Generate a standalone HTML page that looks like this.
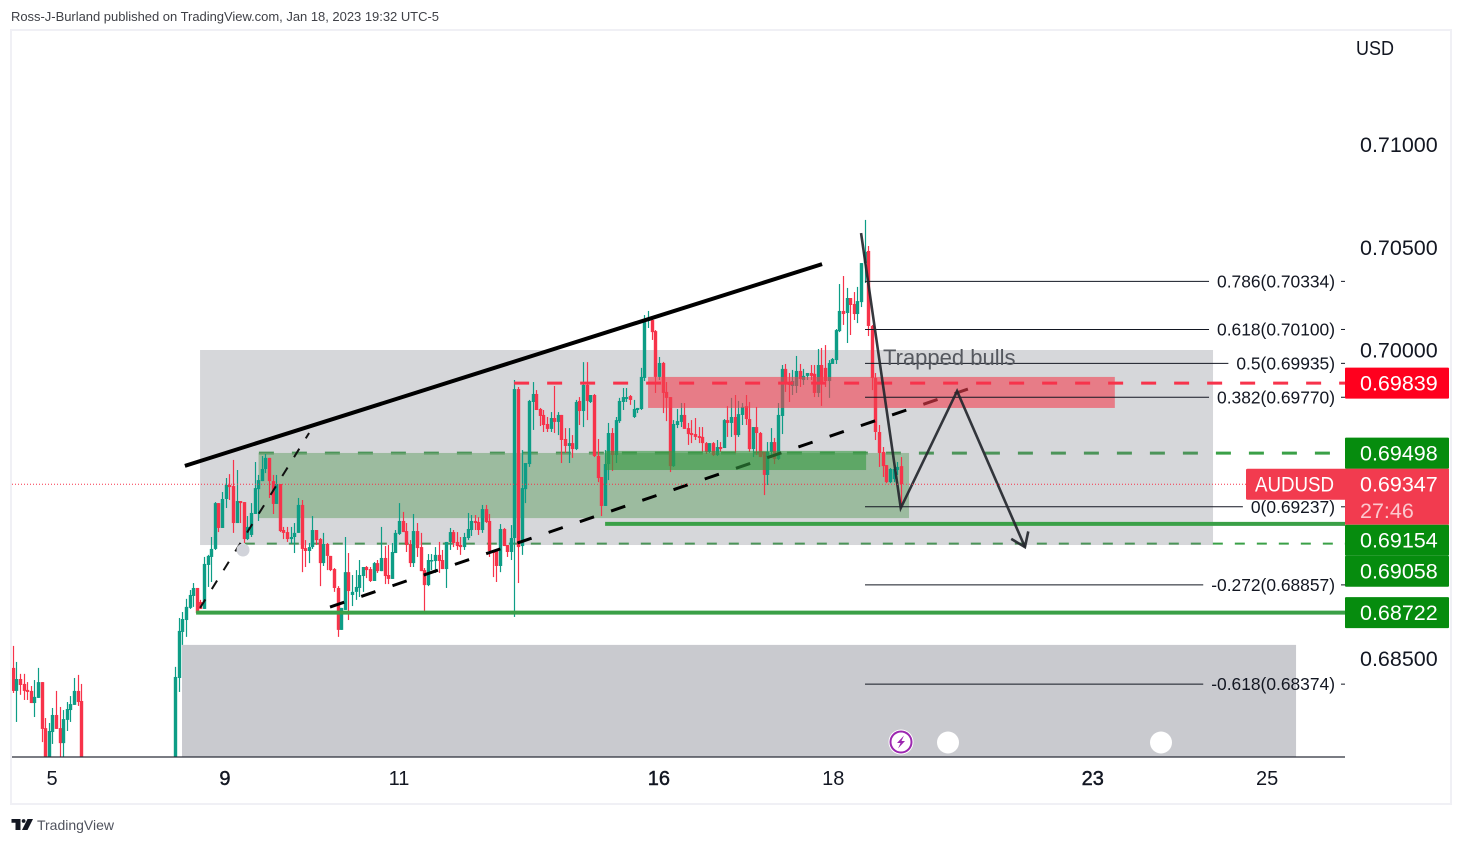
<!DOCTYPE html>
<html lang="en">
<head>
<meta charset="utf-8">
<title>AUDUSD chart</title>
<style>
html,body{margin:0;padding:0;background:#fff;width:1463px;height:844px;overflow:hidden}
svg{display:block;font-family:"Liberation Sans",sans-serif}
</style>
</head>
<body>
<svg id="chart" width="1463" height="844" viewBox="0 0 1463 844" xmlns="http://www.w3.org/2000/svg">
  <defs>
    <clipPath id="pane-clip"><rect x="12" y="30" width="1333" height="727"/></clipPath>
  </defs>
  <text x="11" y="21" font-size="13" fill="#3f4147" textLength="428" lengthAdjust="spacing">Ross-J-Burland published on TradingView.com, Jan 18, 2023 19:32 UTC-5</text>
  <rect x="11" y="30" width="1440" height="774" fill="#fff" stroke="#f0f0f5" stroke-width="2"/>
  <g id="pane" clip-path="url(#pane-clip)">
    <g id="under-levels"></g>
    <g id="zones-under"></g>
    <g id="candles"></g>
    <g id="trend-under"></g>
    <g id="zones-over"></g>
    <g id="over-levels"></g>
    <g id="fib"></g>
    <g id="trend-over"></g>
    <circle cx="243" cy="550" r="6.5" fill="#d1d3da"/>
    <text x="883" y="365" font-size="22" fill="#55585f">Trapped bulls</text>
    <g id="path-arrow"></g>
    <circle cx="901" cy="742" r="12.5" fill="#fff"/>
    <circle cx="901" cy="742" r="10.5" fill="#fff" stroke="#9c27b0" stroke-width="2"/>
    <polygon points="904,735.5 897,743 900.5,743 898,748.5 905,741 901.5,741" fill="#9c27b0"/>
    <circle cx="948" cy="742.5" r="11" fill="#fff"/>
    <circle cx="1161" cy="742.5" r="11" fill="#fff"/>
    <line id="last-line" x1="12" x2="1246" stroke="#f7334b" stroke-width="1" stroke-dasharray="1 2"/>
  </g>
  <line x1="12" y1="757" x2="1345" y2="757" stroke="#2a2e39" stroke-width="1.2"/>
  <g id="time-axis"></g>
  <g id="price-axis"></g>
  <text x="1356" y="55" font-size="20.5" fill="#131722" textLength="38" lengthAdjust="spacingAndGlyphs">USD</text>
  <g id="price-labels"></g>
  <g>
    <path d="M11.5 819H20.5V830H15.5V822.8H11.5Z" fill="#131722"/>
    <circle cx="23.6" cy="821" r="1.9" fill="#131722"/>
    <polygon points="27.5,819 33,819 27.5,830 22,830" fill="#131722"/>
    <text x="37" y="830" font-size="14" fill="#50535e" textLength="77" lengthAdjust="spacing">TradingView</text>
  </g>
</svg>
<script>
// Candles: one entry per hourly bar, prices in 1/100000
const opens = [
68453,68341,68399,68375,68346,68341,68282,68307,68384,68160,67859,68141,68224,68160,68087,68200,68248,68273,68341,68292,
67810,67760,67800,67790,67840,67820,67870,67850,67880,67830,67790,67740,67780,67760,67810,67830,67800,67780,67820,67850,67880,67840,67800,67760,67730,
67810,68404,68628,68686,68745,68803,68842,68774,68740,68954,
68993,69032,69255,69134,69275,69343,69338,69158,69265,69260,
69080,69100,69202,69323,69362,69421,69475,69362,69251,69348,
69124,69114,69080,69090,69110,69246,69036,69022,69041,69124,
69080,68963,69056,68998,68934,68842,68638,68735,68919,68808,
68823,68842,68900,68944,68934,68876,68963,68924,68988,68905,
68886,69012,69105,69168,69119,69056,68963,69119,69041,68929,
68856,68973,68973,69003,68978,68934,69066,69114,69066,69051,
69041,69085,69124,69168,69163,69124,69226,69168,69022,69022,
68949,69129,69051,69017,69085,69810,69046,69323,69445,69747,
69786,69713,69684,69640,69616,69669,69650,69684,69567,69533,
69547,69518,69752,69703,69830,69747,69781,69484,69382,69241,
69445,69596,69489,69654,69747,69762,69776,69674,69708,69713,
69864,70141,70146,70092,69869,69937,69796,69771,69435,69635,
69650,69684,69620,69596,69591,69581,69577,69547,69504,69547,
69489,69528,69523,69659,69645,69674,69586,69684,69727,69664,
69518,69625,69596,69504,69392,69504,69552,69470,69679,69908,
69844,69825,69825,69898,69854,69874,69888,69884,69791,69927,
69913,69849,69932,69951,70092,70190,70180,70253,70224,70175,
70233,70423,70482,70117,69864,69601,69504,69440,69357,69372,69416,69435];
const closes = [
68341,68399,68370,68341,68336,68282,68312,68384,68156,67859,68146,68224,68156,68087,68204,68253,68277,68341,68287,67810,
67760,67800,67790,67840,67820,67870,67850,67880,67830,67790,67740,67780,67760,67810,67830,67800,67780,67820,67850,67880,67840,67800,67760,67730,67761,
68409,68633,68691,68750,68808,68842,68720,68740,68959,68998,
69032,69255,69134,69275,69343,69333,69158,69265,69255,69080,
69139,69207,69328,69367,69421,69475,69362,69251,69348,69119,
69110,69080,69090,69110,69246,69032,69022,69041,69124,69075,
68963,69056,68998,68929,68842,68638,68745,68919,68827,68823,
68847,68905,68944,68929,68876,68963,68924,68988,68900,68886,
69017,69110,69168,69114,69051,68963,69119,69036,68924,68856,
68978,68978,69003,68973,68934,69066,69114,69061,69046,69041,
69090,69129,69168,69158,69124,69226,69163,69022,69012,68949,
69129,69046,69017,69085,69810,69041,69328,69450,69752,69786,
69708,69679,69635,69616,69669,69650,69684,69562,69533,69547,
69518,69747,69703,69830,69752,69781,69484,69377,69241,69445,
69596,69489,69659,69752,69771,69771,69757,69713,69718,69869,
70136,70156,70087,69869,69937,69791,69767,69435,69640,69654,
69684,69616,69591,69586,69577,69572,69547,69504,69547,69489,
69528,69518,69659,69645,69674,69586,69688,69723,69664,69518,
69625,69596,69479,69392,69504,69552,69470,69684,69908,69844,
69830,69849,69898,69859,69874,69888,69874,69791,69927,69844,
69849,69937,69956,70097,70190,70175,70253,70219,70175,70238,
70423,70477,70117,69864,69601,69499,69435,69357,69421,69421,69431,69348];
const highs = [
68560,68482,68424,68424,68384,68365,68394,68453,68384,68209,68185,68258,68341,68263,68248,68287,68316,68404,68419,68375,
67860,67830,67850,67870,67860,67900,67880,67910,67890,67840,67810,67800,67800,67830,67860,67840,67820,67840,67880,67900,67900,67860,67810,67790,67790,
68458,68696,68725,68789,68832,68866,68842,68784,68993,69003,
69090,69260,69255,69309,69377,69396,69465,69416,69265,69260,
69192,69255,69455,69392,69484,69494,69475,69392,69392,69348,
69139,69139,69139,69158,69280,69270,69075,69061,69192,69124,
69085,69110,69061,68998,68939,68851,68745,69090,69012,68905,
68929,68978,68944,68949,68944,68968,68978,69139,69046,69051,
69061,69124,69255,69212,69158,69075,69202,69158,69110,68939,
69007,69007,69041,69066,69027,69066,69134,69124,69114,69090,
69110,69207,69197,69197,69187,69246,69246,69202,69022,69022,
69153,69134,69051,69148,69854,69820,69513,69450,69757,69844,
69805,69718,69708,69674,69698,69825,69698,69684,69620,69620,
69586,69757,69771,69941,69941,69781,69786,69567,69382,69513,
69645,69620,69674,69767,69815,69815,69781,69757,69718,69913,
70170,70190,70165,70097,69966,69942,69844,69771,69659,69713,
69742,69742,69645,69659,69669,69625,69625,69552,69547,69552,
69562,69552,69664,69727,69767,69781,69752,69742,69781,69747,
69625,69723,69601,69504,69552,69620,69572,69742,69927,69932,
69888,69903,69971,69932,69908,69888,69927,69927,70005,70010,
70024,69951,69961,70102,70321,70360,70302,70253,70282,70307,
70423,70633,70506,70122,69888,69635,69528,69440,69426,69431,69455,69479];
const lows = [
68331,68190,68322,68297,68297,68282,68214,68307,68092,67835,67835,68083,68156,67932,67932,68146,68190,68273,68268,67761,
67730,67740,67770,67770,67800,67800,67830,67840,67810,67780,67720,67720,67740,67740,67790,67780,67760,67760,67800,67830,67820,67780,67740,67710,67700,
67761,68336,68565,68604,68740,68750,68716,68740,68740,68847,
68871,69027,69114,69134,69231,69270,69110,69158,69158,69061,
69075,69090,69202,69168,69362,69401,69280,69202,69251,69114,
69080,69066,69056,69012,69110,68919,68944,68963,69032,69051,
68851,68949,68929,68924,68823,68604,68638,68735,68686,68754,
68784,68798,68823,68890,68871,68876,68915,68924,68861,68861,
68886,69012,69100,69114,69017,68944,68944,68993,68924,68730,
68851,68929,68915,68915,68934,68842,69027,69041,69027,69003,
69027,69075,69095,69124,69100,69110,69158,68993,68895,68871,
68919,69046,68993,68978,68701,68866,69003,69255,69431,69611,
69708,69630,69601,69601,69601,69596,69586,69450,69499,69450,
69475,69513,69635,69625,69659,69742,69479,69357,69192,69241,
69367,69411,69450,69645,69708,69747,69733,69669,69693,69708,
69849,70107,70049,69791,69854,69693,69654,69406,69431,69620,
69625,69616,69538,69547,69562,69547,69504,69494,69499,69484,
69484,69504,69523,69577,69577,69499,69577,69635,69635,69504,
69479,69489,69479,69294,69343,69475,69445,69465,69591,69796,
69747,69781,69791,69820,69830,69854,69854,69771,69771,69728,
69820,69767,69932,69932,70087,70122,70034,70073,70146,70131,
70209,70326,70068,69805,69562,69431,69382,69352,69352,69357,69392,69236];

// Axis values
const priceTicks = [0.71, 0.705, 0.70, 0.685];
const dateLabels = ['5', '9', '11', '16', '18', '23', '25'];
const dateBars = [10.9, 58.8, 107, 179, 227.3, 299.2, 347.5];
const dateBold = [false, true, false, true, false, true, false];

// Horizontal levels
const levelPrices = [0.69839, 0.69498, 0.69154, 0.69058, 0.68722];
const levelStartBars = [138.9, 68.2, 164.1, 64.3, 50.8];
const levelKinds = ['red-dash', 'green-dash', 'green-solid', 'green-fine-dash', 'green-solid'];

// Last price
const lastPrice = 0.69347;
const symbolName = 'AUDUSD';
const countdownText = '27:46';

// Fibonacci
const fibRatios = ['0.786', '0.618', '0.5', '0.382', '0', '-0.272', '-0.618'];
const fibPrices = [0.70334, 0.70100, 0.69935, 0.69770, 0.69237, 0.68857, 0.68374];
const fibStartBar = 236.1;

// Zones as bar / price extents
const zoneNames = ['upper-gray-zone', 'lower-gray-zone', 'green-zone', 'dark-green-zone', 'red-zone'];
const zoneStartBars = [51.9, 46.9, 68.1, 164.1, 176];
const zoneEndBars = [332.5, 355.5, 248.3, 236.4, 305.3];
const zoneTops = [0.70000, 0.68565, 0.69499, 0.69509, 0.69869];
const zoneBottoms = [0.69051, 0.67500, 0.69182, 0.69416, 0.69718];

// Trendlines and projected path
const resistBars = [47.7, 224.2];
const resistPrices = [0.69436, 0.70418];
const thinDashBars = [51.9, 82.1];
const thinDashPrices = [0.68745, 0.69596];
const thickDashBars = [87.9, 264.6];
const thickDashPrices = [0.68749, 0.69810];
const pathBars = [235, 246, 261.6, 280.4];
const pathPrices = [0.70569, 0.69231, 0.69800, 0.69041];

const PANE_LEFT_BAR_X = 12.7;
const BAR_STEP = 3.61;
const X_RIGHT = 1345;
function xScale(bar) { return PANE_LEFT_BAR_X + bar * BAR_STEP; }
function yScale(price) { return 350 - (price - 0.70) * 20550; }
const NS = 'http://www.w3.org/2000/svg';
const GREEN = '#3aa047';
const RED = '#f7334b';

function mk(parent, tag, attrs, txt) {
  const el = document.createElementNS(NS, tag);
  for (const k in attrs) el.setAttribute(k, attrs[k]);
  if (txt !== undefined) el.textContent = txt;
  parent.appendChild(el);
  return el;
}
const $ = id => document.getElementById(id);

// levels (dashed ones sit beneath the zones)
levelPrices.forEach((p, i) => {
  const kind = levelKinds[i];
  const y = yScale(p);
  const x1 = xScale(levelStartBars[i]);
  const parent = (kind === 'green-dash' || kind === 'green-fine-dash') ? $('under-levels') : $('over-levels');
  const attrs = {x1: x1, x2: X_RIGHT, y1: y, y2: y};
  if (kind === 'red-dash') { attrs.stroke = RED; attrs['stroke-width'] = 3; attrs['stroke-dasharray'] = '15 18'; }
  if (kind === 'green-dash') { attrs.stroke = GREEN; attrs['stroke-width'] = 3; attrs['stroke-dasharray'] = '15 18'; }
  if (kind === 'green-fine-dash') { attrs.stroke = GREEN; attrs['stroke-width'] = 2; attrs['stroke-dasharray'] = '10 12'; }
  if (kind === 'green-solid') { attrs.stroke = GREEN; attrs['stroke-width'] = 4; }
  const el = mk(parent, 'line', attrs);
  
  
});

// zones
const zoneFills = ['rgba(120,123,134,.3)', 'rgba(120,123,134,.4)', 'rgba(117,168,120,.6)', 'rgba(53,153,65,.6)', 'rgba(242,63,80,.6)'];
zoneNames.forEach((name, i) => {
  const parent = i < 3 ? $('zones-under') : $('zones-over');
  const x = xScale(zoneStartBars[i]);
  const y = yScale(zoneTops[i]);
  const el = mk(parent, 'rect', {x: x, y: y, width: xScale(zoneEndBars[i]) - x, height: yScale(zoneBottoms[i]) - y, fill: zoneFills[i]});
  
  
});

// candles
for (let i = 0; i < opens.length; i++) {
  const up = closes[i] >= opens[i];
  const color = up ? '#0d9d86' : '#f7334a';
  const x = Math.round(xScale(i));
  const yH = yScale(highs[i] / 100000);
  const yL = yScale(lows[i] / 100000);
  const yT = yScale(Math.max(opens[i], closes[i]) / 100000);
  const yB = yScale(Math.min(opens[i], closes[i]) / 100000);
  const wick = mk($('candles'), 'rect', {x: x - 0.1, y: yH, width: 1.2, height: Math.max(1, yL - yH), fill: color});
  
  
  const body = mk($('candles'), 'rect', {x: x - 1.2, y: yT, width: 3.4, height: Math.max(1.5, yB - yT), fill: color});
  
  
}

// dashed trendlines
const thinDash = mk($('trend-under'), 'line', {x1: xScale(thinDashBars[0]), y1: yScale(thinDashPrices[0]), x2: xScale(thinDashBars[1]), y2: yScale(thinDashPrices[1]), stroke: '#111', 'stroke-width': 2, 'stroke-dasharray': '10 12.2'});


const thickDash = mk($('trend-under'), 'line', {x1: xScale(thickDashBars[0]), y1: yScale(thickDashPrices[0]), x2: xScale(thickDashBars[1]), y2: yScale(thickDashPrices[1]), stroke: '#000', 'stroke-width': 3, 'stroke-dasharray': '15 18'});



// solid resistance line
const resist = mk($('trend-over'), 'line', {x1: xScale(resistBars[0]), y1: yScale(resistPrices[0]), x2: xScale(resistBars[1]), y2: yScale(resistPrices[1]), stroke: '#000', 'stroke-width': 4});



// fibonacci
fibPrices.forEach((p, i) => {
  const y = yScale(p);
  const label = mk($('fib'), 'text', {x: 1335, y: y + 6, 'font-size': 17.4, fill: '#131722', 'text-anchor': 'end'}, fibRatios[i] + '(' + p.toFixed(5) + ')');
  
  
  const w = label.getComputedTextLength();
  const line = mk($('fib'), 'line', {x1: xScale(fibStartBar), x2: 1335 - w - 8, y1: y, y2: y, stroke: '#131722', 'stroke-width': 1});
  
  
  const tick = mk($('fib'), 'line', {x1: 1341, x2: 1346, y1: y, y2: y, stroke: '#131722', 'stroke-width': 1});
  
  
});

// projected path with arrow head
const pts = pathBars.map((b, i) => [xScale(b), yScale(pathPrices[i])]);
const route = mk($('path-arrow'), 'polyline', {points: pts.map(q => q.join(',')).join(' '), fill: 'none', stroke: '#24272e', 'stroke-opacity': .92, 'stroke-width': 2.6, 'stroke-linejoin': 'miter'});


const tip = pts[pts.length - 1], prev = pts[pts.length - 2];
const ang = Math.atan2(tip[1] - prev[1], tip[0] - prev[0]);
const headPts = [ang + 0.62, ang - 0.62].map(a => [tip[0] - 16 * Math.cos(a), tip[1] - 16 * Math.sin(a)]);
const head = mk($('path-arrow'), 'polyline', {points: headPts[0].join(',') + ' ' + tip.join(',') + ' ' + headPts[1].join(','), fill: 'none', stroke: '#24272e', 'stroke-opacity': .92, 'stroke-width': 2.6});



// last price line
const lastY = yScale(lastPrice);
$('last-line').setAttribute('y1', lastY);
$('last-line').setAttribute('y2', lastY);

// time axis
dateLabels.forEach((t, i) => {
  const el = mk($('time-axis'), 'text', {x: xScale(dateBars[i]), y: 785, 'font-size': 20, fill: '#131722', 'text-anchor': 'middle', stroke: dateBold[i] ? '#131722' : 'none', 'stroke-width': dateBold[i] ? 0.45 : 0}, t);
  
  
});

// price axis
priceTicks.forEach(p => {
  const el = mk($('price-axis'), 'text', {x: 1360, y: yScale(p) + 7.5, 'font-size': 21.5, fill: '#131722'}, p.toFixed(5));
  
  
});

// price labels
const BOX_H = 31, BOX_L = 1345, BOX_R = 1449;
const blockTop = lastY - 15.5, blockBottom = blockTop + 56;
const symbolBox = mk($('price-labels'), 'rect', {x: 1246, y: blockTop, width: BOX_R - 1246, height: BOX_H, rx: 1.5, fill: '#f23b4f'});


const countdownBox = mk($('price-labels'), 'rect', {x: BOX_L, y: blockTop, width: BOX_R - BOX_L, height: 56, fill: '#f23b4f'});


const symText = mk($('price-labels'), 'text', {x: 1255, y: lastY + 7.5, 'font-size': 21.5, fill: '#fff', textLength: 79, lengthAdjust: 'spacingAndGlyphs'}, symbolName);


const lastText = mk($('price-labels'), 'text', {x: 1360, y: lastY + 7.5, 'font-size': 21.5, fill: '#fff'}, lastPrice.toFixed(5));


const cdText = mk($('price-labels'), 'text', {x: 1360, y: lastY + 34, 'font-size': 21.5, fill: '#fff', 'fill-opacity': .72}, countdownText);



let floorY = -Infinity;
levelPrices.forEach((p, i) => {
  let top = yScale(p) - BOX_H / 2;
  if (top + BOX_H > blockTop + 0.6 && top < blockBottom) top = blockBottom;
  if (top < floorY) top = floorY;
  floorY = top + BOX_H;
  const fill = levelKinds[i] === 'red-dash' ? '#ff001e' : '#068c0e';
  const box = mk($('price-labels'), 'rect', {x: BOX_L, y: top, width: BOX_R - BOX_L, height: BOX_H, rx: 1, fill: fill});
  
  
  const txt = mk($('price-labels'), 'text', {x: 1360, y: top + BOX_H / 2 + 7.5, 'font-size': 21.5, fill: '#fff'}, p.toFixed(5));
  
  
});
</script>
</body>
</html>
